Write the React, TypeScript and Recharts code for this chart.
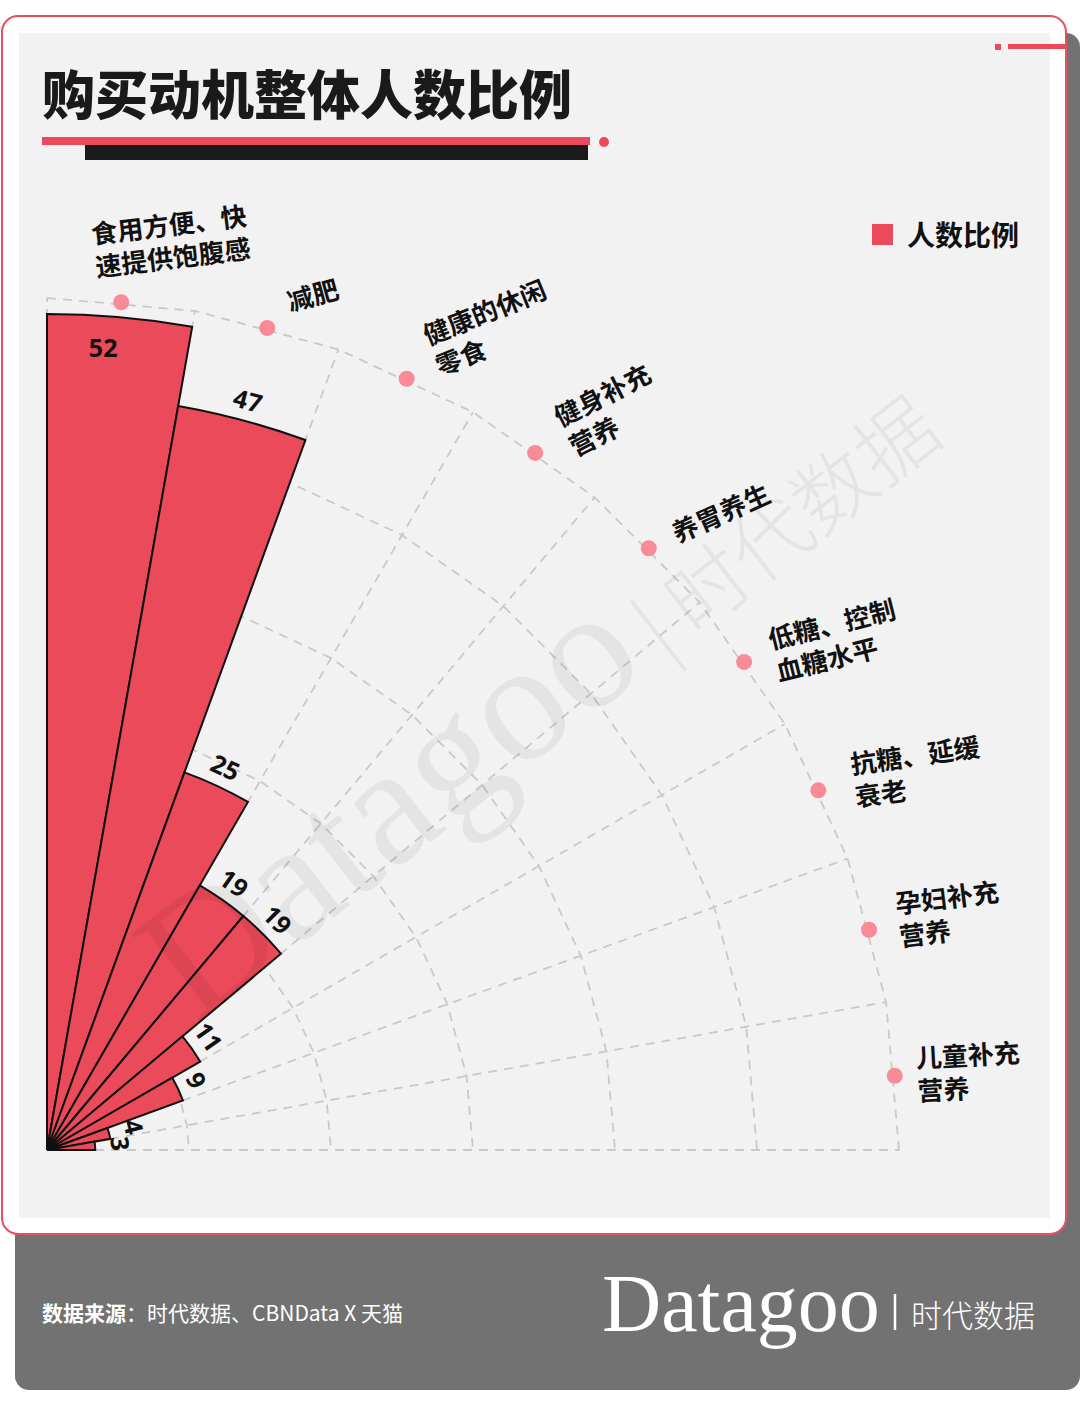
import React from "react"
import { RadialBarChart, RadialBar, PolarAngleAxis, PolarRadiusAxis, LabelList, Legend } from "recharts"

// 购买动机整体人数比例
const categories = [
  "食用方便、快速提供饱腹感",
  "减肥",
  "健康的休闲零食",
  "健身补充营养",
  "养胃养生",
  "低糖、控制血糖水平",
  "抗糖、延缓衰老",
  "孕妇补充营养",
  "儿童补充营养",
]
const categoryLines = [
  ["食用方便、快", "速提供饱腹感"],
  ["减肥"],
  ["健康的休闲", "零食"],
  ["健身补充", "营养"],
  ["养胃养生"],
  ["低糖、控制", "血糖水平"],
  ["抗糖、延缓", "衰老"],
  ["孕妇补充", "营养"],
  ["儿童补充", "营养"],
]
const values = [52, 47, 25, 19, 19, 11, 9, 4, 3]
const seriesName = "人数比例"

const data = categories.map((name, i) => ({ name, value: values[i] }))

// layout
const W = 1080
const H = 1416
const CX = 47
const CY = 1150
const R = 852
const RINGS = 6
const RED = "#ea4a5a"
const CJK = "'Noto Sans CJK SC', 'Noto Sans', sans-serif"
// recharts puts the first band of a reversed category angle axis one band past startAngle,
// so the axis range is shifted by one band to make the bars fill 90°..0°
const BAND = 90 / categories.length

// label placement relative to the dot, per category
const labelLayout = [
  { dx: -30, dy: -70, rot: -7 },
  { dx: 20, dy: -28, rot: -15 },
  { dx: 17, dy: -44, rot: -22 },
  { dx: 20, dy: -36, rot: -27 },
  { dx: 24, dy: -16, rot: -24 },
  { dx: 24, dy: -24, rot: -14 },
  { dx: 32, dy: -28, rot: -8 },
  { dx: 26, dy: -28, rot: -7 },
  { dx: 21, dy: -20, rot: -3 },
]

function polar(cx: number, cy: number, r: number, deg: number) {
  const a = (deg * Math.PI) / 180
  return [cx + r * Math.cos(a), cy - r * Math.sin(a)]
}

function Grid() {
  const angles = Array.from({ length: categories.length + 1 }, (_, i) => 90 - i * BAND)
  const style = { stroke: "#c9c9c9", strokeWidth: 1.8, strokeDasharray: "9 7", fill: "none" }
  return (
    <g>
      {Array.from({ length: RINGS }, (_, k) => {
        const r = (R * (k + 1)) / RINGS
        const pts = angles.map((a) => polar(CX, CY, r, a).join(",")).join(" ")
        return <polyline key={k} points={pts} {...style} />
      })}
      {angles.map((a) => {
        const [x, y] = polar(CX, CY, R, a)
        return <line key={a} x1={CX} y1={CY} x2={x} y2={y} {...style} />
      })}
    </g>
  )
}

function CategoryLabel(props: any) {
  const vb = props.viewBox ?? props
  const idx = categories.indexOf(props.value)
  if (idx < 0) return null
  const mid = (vb.startAngle + vb.endAngle) / 2
  const [x, y] = polar(vb.cx, vb.cy, R - 1, mid)
  const lay = labelLayout[idx]
  const tx = x + lay.dx
  const ty = y + lay.dy
  return (
    <g>
      <circle cx={x} cy={y} r={8} fill="#f98b97" />
      <text
        x={tx}
        y={ty}
        transform={`rotate(${lay.rot} ${tx} ${ty})`}
        fontFamily={CJK}
        fontWeight={700}
        fontSize={26}
        fill="#111"
        dominantBaseline="central"
      >
        {categoryLines[idx].map((l, i) => (
          <tspan key={i} x={tx} dy={i ? 33 : 0}>
            {l}
          </tspan>
        ))}
      </text>
    </g>
  )
}

function ValueLabel(props: any) {
  const vb = props.viewBox ?? props
  const { cx, cy, outerRadius, startAngle, endAngle } = vb
  const mid = (startAngle + endAngle) / 2
  const inside = props.value === Math.max(...values)
  const r = inside ? outerRadius - 31 : outerRadius + (props.value < 6 ? 26 : 21)
  const [x, y] = polar(cx, cy, r, inside ? mid + 1 : mid)
  const rot = inside ? 0 : 90 - mid
  return (
    <text
      x={x}
      y={y}
      transform={`rotate(${rot} ${x} ${y})`}
      textAnchor="middle"
      dominantBaseline="central"
      fontFamily="'Open Sans', sans-serif"
      fontWeight={700}
      fontSize={25}
      fill="#111"
    >
      {props.value}
    </text>
  )
}

function LegendBox() {
  return (
    <div style={{ display: "flex", alignItems: "center", fontFamily: CJK, fontWeight: 700, fontSize: 28, color: "#111" }}>
      <span style={{ width: 21, height: 21, background: RED, display: "inline-block", marginRight: 14 }} />
      {seriesName}
    </div>
  )
}

export default function App() {
  return (
    <div style={{ position: "absolute", left: 0, top: 0, width: W, height: H, background: "#fff" }}>
      <svg width={W} height={H} style={{ position: "absolute", left: 0, top: 0 }}>
        <rect x={15} y={33} width={1065} height={1357} rx={14} fill="#727272" />
        <rect x={2} y={16} width={1064} height={1218} rx={16} fill="#fff" stroke="#e5505e" strokeWidth={2} />
        <rect x={19} y={33} width={1031} height={1185} fill="#f2f2f2" />
        <rect x={995} y={44} width={6} height={6} fill={RED} />
        <rect x={1008} y={44} width={58} height={5} fill={RED} />
        <text x={42} y={92} fontFamily={CJK} fontWeight={900} fontSize={53} fill="#1a1a1a" dominantBaseline="central">
          购买动机整体人数比例
        </text>
        <rect x={42} y={137} width={548} height={8} fill={RED} />
        <circle cx={604} cy={142} r={5} fill={RED} />
        <rect x={85} y={145} width={503} height={15} fill="#1a1a1a" />
        <Grid />
        <text x={42} y={1312} fontFamily={CJK} fontSize={21} fill="#fff" dominantBaseline="central">
          <tspan fontWeight={700}>数据来源</tspan>
          <tspan>：时代数据、CBNData X 天猫</tspan>
        </text>
        <text x={602} y={1331} fontFamily="'Liberation Serif', serif" fontSize={82} fill="#fff">
          Datagoo
        </text>
        <line x1={895} y1={1294} x2={895} y2={1330} stroke="#fff" strokeWidth={2.5} />
        <text x={911} y={1313} fontFamily={CJK} fontSize={31} fontWeight={300} fill="#fff" dominantBaseline="central">
          时代数据
        </text>
      </svg>
      <div style={{ position: "absolute", left: 0, top: 0 }}>
        <RadialBarChart
          width={W}
          height={H}
          data={data}
          layout="centric"
          cx={CX}
          cy={CY}
          innerRadius={0}
          outerRadius={R}
          startAngle={90 - BAND}
          endAngle={-BAND}
          barCategoryGap={0}
          barGap={0}
          margin={{ top: 0, right: 0, bottom: 0, left: 0 }}
        >
          <PolarAngleAxis type="category" dataKey="name" axisLine={false} tickLine={false} tick={false} />
          <PolarRadiusAxis type="number" domain={[0, 53]} tick={false} axisLine={false} />
          <Legend
            content={<LegendBox />}
            wrapperStyle={{ position: "absolute", left: 872, top: 214, width: 180 }}
          />
          <RadialBar dataKey="value" fill={RED} stroke="#111" strokeWidth={2} isAnimationActive={false}>
            <LabelList dataKey="value" content={<ValueLabel />} />
            <LabelList dataKey="name" content={<CategoryLabel />} />
          </RadialBar>
        </RadialBarChart>
      </div>
      <svg width={W} height={H} style={{ position: "absolute", left: 0, top: 0, pointerEvents: "none" }}>
        <text transform="translate(196 1025) rotate(-38)" fill="#000" opacity={0.05}>
          <tspan fontFamily="'Liberation Serif', serif" fontSize={170}>Datagoo</tspan>
          <tspan fontFamily={CJK} fontSize={80} fontWeight={300} dx={18}>| 时代数据</tspan>
        </text>
      </svg>
    </div>
  )
}
